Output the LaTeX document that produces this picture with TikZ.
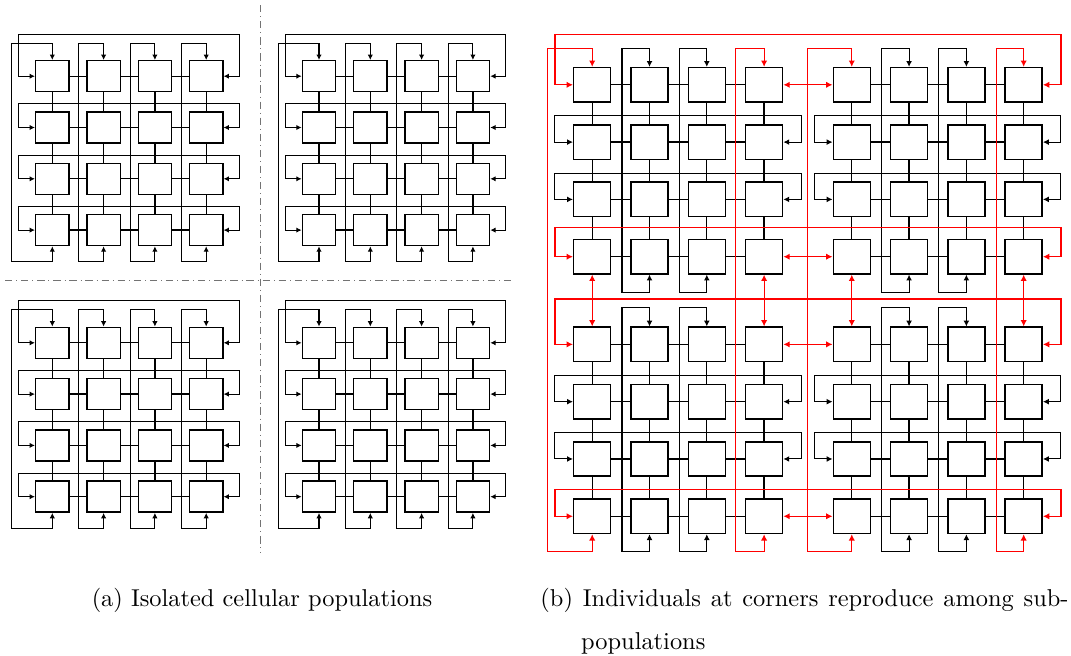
\documentclass[tikz,border=0pt]{standalone}
\usetikzlibrary{arrows.meta}
\begin{document}
\begin{tikzpicture}[x=0.41pt,y=-0.41pt,
  cellL/.style={draw, fill=white, line width=0.6pt, inner sep=0pt,
    minimum width=13.65pt, minimum height=12.7pt},
  cellR/.style={draw, fill=white, line width=0.6pt, inner sep=0pt,
    minimum width=15.2pt, minimum height=14.1pt},
  link/.style={line width=0.55pt},
  wrap/.style={line width=0.42pt, {Latex[length=2.2pt,width=2.2pt]}-{Latex[length=2.2pt,width=2.2pt]}},
  wrapR/.style={line width=0.42pt, {Latex[length=2.4pt,width=2.4pt]}-{Latex[length=2.4pt,width=2.4pt]}},
  redwrap/.style={red, line width=0.5pt, {Latex[length=2.6pt,width=2.6pt]}-{Latex[length=2.6pt,width=2.6pt]}},
  redlink/.style={red, line width=0.5pt, {Latex[length=2.6pt,width=2.6pt]}-{Latex[length=2.6pt,width=2.6pt]}},
  sepline/.style={line width=0.4pt, black!55, dash pattern=on 3pt off 1.6pt on 0.4pt off 1.6pt},
  captext/.style={inner sep=0pt, font=\fontsize{10}{12}\selectfont}]

\useasboundingbox (0,0) rectangle (1071,655);

% a 4x4 toroidal grid of cells: #1 name prefix, (#2,#3) centre of the first cell
\newcommand\torusgrid[3]{%
\begin{scope}[shift={(#2,#3)}, x=21.033pt, y=-21.033pt]
  \foreach \i in {0,...,3} \foreach \j in {0,...,3}
    \node[cellL] (#1-\i-\j) at (\i,\j) {};
  \foreach \i [count=\k] in {0,1,2} \foreach \j in {0,...,3} {
    \draw[link] (#1-\i-\j.east) -- (#1-\k-\j.west);
    \draw[link] (#1-\j-\i.south) -- (#1-\j-\k.north);
  }
  \foreach \j in {0,...,3} {
    \pgfmathsetmacro\yt{\j==0 ? -0.82 : \j-0.46}
    \draw[wrap] (#1-0-\j.west) -| (-0.66,\yt) -| (3.64,\j) -- (#1-3-\j.east);
  }
  \foreach \i in {0,...,3} {
    \pgfmathsetmacro\xv{\i==0 ? -0.79 : \i-0.48}
    \draw[wrap] (#1-\i-0.north) |- (\xv,-0.64) |- (\i,3.62) -- (#1-\i-3.south);
  }
\end{scope}}

% ---- isolated populations
\torusgrid{A}{52.3}{76.2}
\torusgrid{B}{319}{76.2}
\torusgrid{C}{52.3}{342.8}
\torusgrid{D}{319}{342.8}

\coordinate (vs1) at (260,5);
\coordinate (vs2) at (260,553);
\coordinate (hs1) at (5,280);
\coordinate (hs2) at (515,280);
\draw[sepline] (vs1) -- (vs2);
\draw[sepline] (hs1) -- (hs2);

% ---- coupled sub-populations
\begin{scope}[shift={(592.2,84.8)}, x=23.493pt, y=-23.493pt]
  \foreach \i in {0,...,7} \foreach \j in {0,...,7} {
    \pgfmathsetmacro\px{\i>3 ? \i+0.53 : \i}
    \pgfmathsetmacro\py{\j>3 ? \j+0.53 : \j}
    \node[cellR] (R-\i-\j) at (\px,\py) {};
  }
  % neighbour links inside each sub-population
  \foreach \i [evaluate=\i as \k using int(\i+1)] in {0,1,2,4,5,6} \foreach \j in {0,...,7} {
    \draw[link] (R-\i-\j.east) -- (R-\k-\j.west);
    \draw[link] (R-\j-\i.south) -- (R-\j-\k.north);
  }
  % wrap-around of inner rows and columns
  \foreach \j in {1,2,5,6} \foreach \s in {0,1} {
    \pgfmathtruncatemacro\a{4*\s}
    \pgfmathtruncatemacro\b{4*\s+3}
    \pgfmathsetmacro\pa{\a+0.53*\s}
    \pgfmathsetmacro\pb{\b+0.53*\s}
    \pgfmathsetmacro\yr{\j>3 ? \j+0.53 : \j}
    \draw[wrapR] (R-\a-\j.west) -| (\pa-0.65,\yr-0.46) -| (\pb+0.65,\yr) -- (R-\b-\j.east);
    \pgfmathsetmacro\xc{\j>3 ? \j+0.53 : \j}
    \draw[wrapR] (R-\j-\a.north) |- (\xc-0.48,\pa-0.64) |- (\xc,\pb+0.62) -- (R-\j-\b.south);
  }
  % wrap-around of outer rows and columns
  \foreach \j/\off in {0/-0.88,3/-0.51,4/-0.79,7/-0.47} {
    \pgfmathsetmacro\yr{\j>3 ? \j+0.53 : \j}
    \draw[redwrap] (R-0-\j.west) -| (-0.65,\yr+\off) -| (8.18,\yr) -- (R-7-\j.east);
  }
  \foreach \i/\off in {0/-0.78,3/-0.5,4/-0.77,7/-0.48} {
    \pgfmathsetmacro\xc{\i>3 ? \i+0.53 : \i}
    \draw[redwrap] (R-\i-0.north) |- (\xc+\off,-0.64) |- (\xc,8.15) -- (R-\i-7.south);
  }
  % corner exchanges between sub-populations
  \foreach \j in {0,3,4,7} {
    \draw[redlink] (R-3-\j.east) -- (R-4-\j.west);
    \draw[redlink] (R-\j-3.south) -- (R-\j-4.north);
  }
\end{scope}

% ---- captions
\node[captext, anchor=base] (capa) at (262,606) {(a) Isolated cellular populations};
\node[captext, anchor=base west] (capb) at (540,606)
  {\makebox[216.5pt][s]{(b) Individuals at corners reproduce among sub-}};
\node[captext, anchor=base west] (capc) at (580.7,649) {populations};
\end{tikzpicture}
\end{document}
